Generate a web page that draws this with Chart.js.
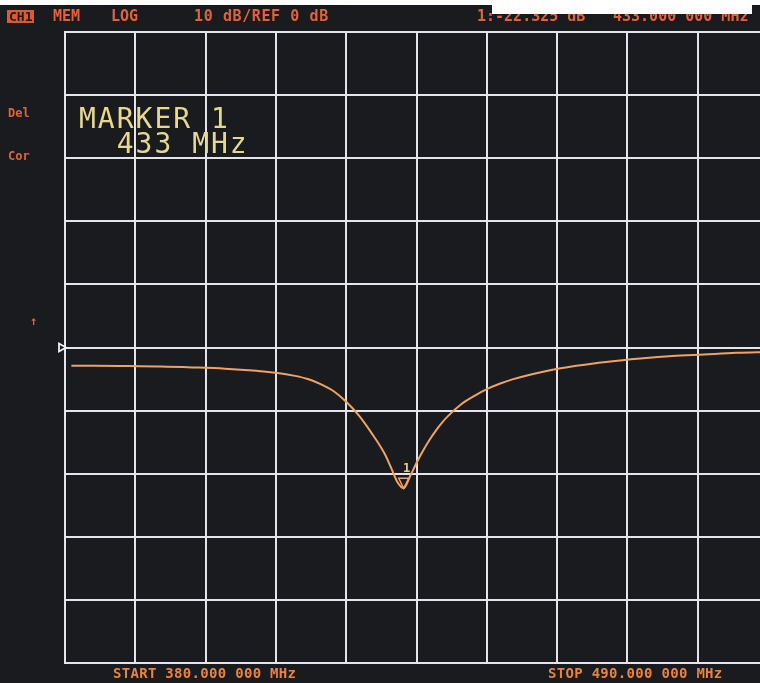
<!DOCTYPE html>
<html><head><meta charset="utf-8">
<script src="https://cdn.jsdelivr.net/npm/chart.js@4"></script>
<style>
html,body{margin:0;padding:0;width:760px;height:683px;overflow:hidden;background:#ffffff;}
#screen{position:absolute;left:0;top:5px;width:760px;height:678px;background:#1a1b1f;}
#wrap{position:absolute;left:0;top:0;width:780px;height:683px;}
.t{position:absolute;font-family:"DejaVu Sans Mono",monospace;font-weight:bold;white-space:pre;line-height:1;}
.hdr{font-size:15px;color:#e2623c;top:9px;}
.bot{font-size:14px;color:#e8843f;top:666px;letter-spacing:0.3px;}
.side{font-size:12px;color:#e0633e;}
.mk{font-size:28px;font-weight:normal;color:#e6d88c;letter-spacing:2px;left:79px;}
#cover{position:absolute;left:492px;top:0;width:260px;height:14px;background:#ffffff;}
</style>
</head><body>
<div id="screen"></div>
<div id="wrap"><canvas id="c" width="780" height="683"></canvas></div>
<div class="t hdr" style="left:7px;font-size:13px;top:10px;background:#dc5a30;color:#1a1b1f;padding:0 2px;">CH1</div>
<div class="t hdr" style="left:53px;">MEM</div>
<div class="t hdr" style="left:111px;">LOG</div>
<div class="t hdr" style="left:194px;letter-spacing:0.6px;">10 dB/REF 0 dB</div>
<div class="t hdr" style="left:477px;">1:-22.325 dB</div>
<div class="t hdr" style="left:613px;">433.000 000 MHz</div>
<div id="cover"></div>
<div class="t side" style="left:8px;top:107px;">Del</div>
<div class="t side" style="left:8px;top:150px;">Cor</div>
<div class="t side" style="left:30px;top:315px;">↑</div>
<div class="t mk" style="top:105px;">MARKER 1</div>
<div class="t mk" style="top:130px;">  433 MHz</div>
<div class="t bot" style="left:113px;">START 380.000 000 MHz</div>
<div class="t bot" style="left:548px;">STOP 490.000 000 MHz</div>
<script>
// Frequency sweep (MHz) and measured log magnitude (dB)
const freqMHz = [381,385,390,395,400,405,410,413,416,418,420,422,424,426,428,430,431,432,433,434,435,436,437,438,439,440,442,444,446,448,450,455,460,465,470,475,480,485,490];
const s11dB  = [-2.9,-2.9,-2.95,-3.0,-3.15,-3.35,-3.7,-4.0,-4.5,-5.0,-5.8,-6.9,-8.6,-10.8,-13.6,-16.8,-19.0,-21.3,-22.3,-20.4,-18.3,-16.4,-14.7,-13.2,-11.9,-10.8,-9.0,-7.7,-6.6,-5.75,-5.05,-3.8,-2.9,-2.25,-1.75,-1.35,-1.1,-0.85,-0.7];
// Graticule ticks: 11 MHz/div, 10 dB/div, reference 0 dB
const xTicks = [380,391,402,413,424,435,446,457,468,479,490];
const yTicks = [-50,-40,-30,-20,-10,0,10,20,30,40,50];
const marker = {freq:433, dB:-22.325, label:'1'};
const refLevel = 0;

const gridColor = '#e4e4ea';
const traceColor = '#eea365';

const overlay = {
  id:'overlay',
  afterDatasetsDraw(chart){
    const ctx = chart.ctx, xs = chart.scales.x, ys = chart.scales.y;
    const ry = ys.getPixelForValue(refLevel), rx = chart.chartArea.left;
    ctx.save();
    ctx.strokeStyle = '#f0f0f4'; ctx.lineWidth = 1.8;
    ctx.beginPath();
    ctx.moveTo(rx-6, ry-4); ctx.lineTo(rx+1, ry); ctx.lineTo(rx-6, ry+4); ctx.closePath();
    ctx.stroke();
    const mx = xs.getPixelForValue(marker.freq), my = ys.getPixelForValue(marker.dB);
    ctx.strokeStyle = traceColor; ctx.lineWidth = 1.5;
    ctx.beginPath();
    ctx.moveTo(mx, my); ctx.lineTo(mx-5, my-10); ctx.lineTo(mx+5, my-10); ctx.closePath();
    ctx.stroke();
    ctx.fillStyle = '#ecd08c';
    ctx.font = 'bold 12px "DejaVu Sans Mono", monospace';
    ctx.textAlign = 'center'; ctx.textBaseline = 'bottom';
    ctx.fillText(marker.label, mx+3, my-13);
    ctx.restore();
  }
};

new Chart(document.getElementById('c'), {
  type:'line',
  data:{
    datasets:[{
      data: freqMHz.map((f,i)=>({x:f, y:s11dB[i]})),
      borderColor: traceColor,
      borderWidth: 2,
      pointRadius: 0,
      fill: false,
      cubicInterpolationMode: 'monotone'
    }]
  },
  options:{
    responsive:false,
    animation:false,
    events:[],
    layout:{padding:{left:65, right:12, top:32, bottom:20}},
    plugins:{legend:{display:false}, tooltip:{enabled:false}},
    scales:{
      x:{
        type:'linear', min:380, max:490,
        afterBuildTicks(s){ s.ticks = xTicks.map(v=>({value:v})); },
        afterFit(s){ s.height = 0; },
        ticks:{display:false},
        grid:{color:gridColor, lineWidth:2, drawTicks:false},
        border:{display:true, color:gridColor, width:2}
      },
      y:{
        type:'linear', min:-50, max:50,
        afterBuildTicks(s){ s.ticks = yTicks.map(v=>({value:v})); },
        afterFit(s){ s.width = 0; },
        ticks:{display:false},
        grid:{color:gridColor, lineWidth:2, drawTicks:false},
        border:{display:true, color:gridColor, width:2}
      }
    }
  },
  plugins:[overlay]
});
</script>
</body></html>
